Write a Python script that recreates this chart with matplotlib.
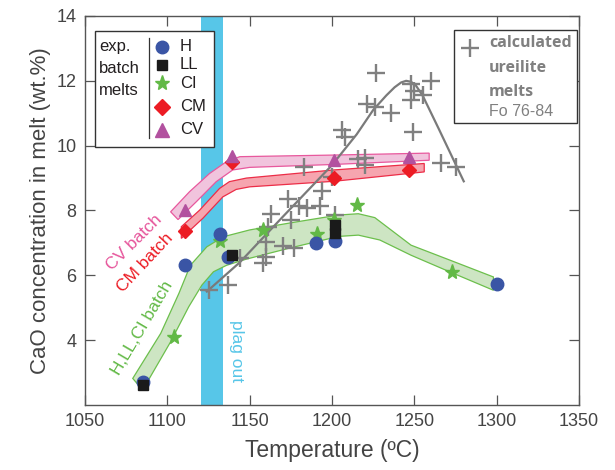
import matplotlib
matplotlib.use("Agg")
import matplotlib.pyplot as plt
from matplotlib.patches import Rectangle

# experimental batch melts (T in C, CaO wt.%)
h_T = [1085, 1111, 1132, 1137, 1190, 1202, 1300]
h_cao = [2.72, 6.31, 7.27, 6.57, 7.0, 7.07, 5.73]
ll_T = [1085, 1139, 1202, 1202]
ll_cao = [2.62, 6.64, 7.55, 7.3]
ci_T = [1104, 1132, 1158, 1191, 1201, 1215, 1273]
ci_cao = [4.1, 7.05, 7.4, 7.27, 7.7, 8.17, 6.1]
cm_T = [1111, 1139, 1201, 1247]
cm_cao = [7.38, 9.5, 9.0, 9.25]
cv_T = [1111, 1139, 1201, 1247]
cv_cao = [8.0, 9.68, 9.57, 9.64]

# calculated ureilite melts, Fo 76-84
calc_T = [1125, 1137, 1144, 1158, 1160, 1160, 1161, 1163, 1170, 1177, 1175, 1173,
          1180, 1185, 1193, 1194, 1183, 1200, 1202, 1206, 1208, 1216, 1220, 1220,
          1221, 1226, 1227, 1236, 1248, 1260, 1250, 1255, 1248, 1249, 1266, 1275]
calc_cao = [5.54, 5.70, 6.52, 6.37, 6.57, 7.03, 7.48, 7.90, 6.90, 6.83, 7.70, 8.35,
            8.14, 8.08, 8.14, 8.60, 9.35, 9.04, 7.86, 10.48, 10.27, 9.58, 9.62, 9.40,
            11.30, 11.20, 12.25, 11.00, 11.90, 12.00, 11.70, 11.56, 11.40, 10.43, 9.45, 9.35]

# trend through the calculated melts
trend_T = [1124, 1144, 1170, 1200, 1215, 1225, 1233, 1238, 1242, 1245, 1248, 1251, 1255, 1265, 1280]
trend_cao = [5.5, 6.4, 7.8, 9.4, 10.35, 11.1, 11.55, 11.8, 11.95, 12.0, 11.97, 11.85, 11.55, 10.5, 8.9]

# batch trend bands (upper and lower edges)
hci_up_T = [1079, 1096, 1107, 1114, 1124, 1134, 1150, 1175, 1204, 1216, 1226, 1248, 1270, 1298]
hci_up = [2.82, 4.21, 5.44, 6.31, 6.88, 7.19, 7.40, 7.62, 7.86, 7.90, 7.78, 6.93, 6.50, 5.95]
hci_lo_T = [1085, 1102, 1113, 1121, 1128, 1136, 1148, 1175, 1204, 1216, 1229, 1248, 1270, 1298]
hci_lo = [2.46, 3.95, 5.03, 5.70, 6.11, 6.31, 6.50, 6.85, 7.20, 7.24, 7.09, 6.62, 6.14, 5.54]

cv_up_T = [1102, 1113.5, 1125.6, 1135.7, 1144, 1201, 1259]
cv_up = [7.96, 8.58, 9.14, 9.50, 9.66, 9.71, 9.77]
cv_lo_T = [1106.5, 1117.6, 1129.7, 1139.7, 1150, 1201, 1259]
cv_lo = [7.72, 8.27, 8.89, 9.25, 9.33, 9.42, 9.55]

cm_up_T = [1108.5, 1119.6, 1131.7, 1137.7, 1148, 1201, 1256]
cm_up = [7.50, 8.01, 8.68, 8.89, 9.00, 9.25, 9.45]
cm_lo_T = [1108.5, 1121.6, 1133.7, 1141.8, 1150, 1201, 1256]
cm_lo = [7.14, 7.76, 8.42, 8.65, 8.73, 8.90, 9.19]

plag_out = (1120.5, 1134)

x_ticks = [1050, 1100, 1150, 1200, 1250, 1300, 1350]
y_ticks = [4, 6, 8, 10, 12, 14]

c_blue = '#3a55a5'
c_green = '#62b946'
c_red = '#ec1c24'
c_purple = '#b2519f'
c_pink = '#e6559b'
c_cyan = '#57c6e8'
c_gray = '#808080'
ann_font = ['Liberation Sans', 'DejaVu Sans']
bold_font = ['Open Sans', 'Liberation Sans', 'DejaVu Sans']

plt.rcParams['font.family'] = ['Liberation Sans', 'DejaVu Sans']

fig = plt.figure(figsize=(6.15, 4.7), dpi=100)
ax = fig.add_axes([0.1382, 0.1383, 0.8033, 0.8277])


def band(up_T, up, lo_T, lo, face, edge):
    xs = list(up_T) + list(lo_T)[::-1]
    ys = list(up) + list(lo)[::-1]
    ax.fill(xs, ys, facecolor=face, edgecolor=edge, lw=0.9, zorder=2)


ax.axvspan(plag_out[0], plag_out[1], color=c_cyan, lw=0, zorder=1)

band(hci_up_T, hci_up, hci_lo_T, hci_lo, '#cde5c3', '#6cbf4c')
band(cv_up_T, cv_up, cv_lo_T, cv_lo, '#f1c4dd', '#e8589d')
band(cm_up_T, cm_up, cm_lo_T, cm_lo, '#f6a5af', '#ec2d47')

ax.plot(trend_T, trend_cao, color='#7a7a7a', lw=1.6, zorder=3)
ax.plot(calc_T, calc_cao, ls='none', marker='+', ms=13, mew=1.7, color=c_gray, zorder=4)

ax.plot(ci_T, ci_cao, ls='none', marker='*', ms=11, color=c_green, mec=c_green, zorder=5)
ax.plot(h_T, h_cao, ls='none', marker='o', ms=9, color=c_blue, zorder=6)
ax.plot(ll_T, ll_cao, ls='none', marker='s', ms=7.5, color='#1a1a1a', zorder=7)
ax.plot(cm_T, cm_cao, ls='none', marker='D', ms=7.5, color=c_red, zorder=6)
ax.plot(cv_T, cv_cao, ls='none', marker='^', ms=9, color=c_purple, zorder=7)

# band labels
ax.text(1079.6, 7.0, 'CV batch', color=c_pink, rotation=45, fontsize=12.5,
        family=ann_font, ha='center', va='center', rotation_mode='anchor')
ax.text(1086.3, 6.4, 'CM batch', color=c_red, rotation=47, fontsize=12.5,
        family=ann_font, ha='center', va='center', rotation_mode='anchor')
ax.text(1084.8, 4.37, 'H,LL,CI batch', color=c_green, rotation=59.5, fontsize=12.5,
        family=ann_font, ha='center', va='center', rotation_mode='anchor')
ax.text(1141.7, 3.67, 'plag out', color=c_cyan, rotation=-90, fontsize=12.5,
        family=ann_font, ha='center', va='center', rotation_mode='anchor')

ax.set_xlim(1050, 1350)
ax.set_ylim(2, 14)
ax.set_xticks(x_ticks)
ax.set_yticks(y_ticks)
ax.tick_params(direction='in', length=7, width=0.9, color='#555555',
               labelsize=13, labelcolor='#444444', top=True, right=True, pad=6)
for s in ax.spines.values():
    s.set_color('#555555')
    s.set_linewidth(1.0)
ax.set_xlabel('Temperature (ºC)', fontsize=16.5, color='#444444', labelpad=6)
ax.set_ylabel('CaO concentration in melt (wt.%)', fontsize=16, color='#444444', labelpad=4)

# left legend box (experimental batch melts)
ax.add_patch(Rectangle((0.0202, 0.663), 0.2409, 0.299, transform=ax.transAxes,
                       facecolor='white', edgecolor='#333333', lw=1.0, zorder=10))
for i, word in enumerate(['exp.', 'batch', 'melts']):
    ax.text(0.0283, [0.921, 0.866, 0.808][i], word, transform=ax.transAxes, fontsize=12,
            family=ann_font, color='#231f20', va='center', ha='left', zorder=11)
ax.plot([0.1296, 0.1296], [0.686, 0.943], transform=ax.transAxes, color='#333333',
        lw=0.9, zorder=11, clip_on=False)
leg_rows = [0.921, 0.874, 0.827, 0.767, 0.707]
leg_names = ['H', 'LL', 'CI', 'CM', 'CV']
leg_style = [('o', c_blue, 9), ('s', '#1a1a1a', 7.5), ('*', c_green, 11),
             ('D', c_red, 8), ('^', c_purple, 9.5)]
for yy, name, (m, c, ms) in zip(leg_rows, leg_names, leg_style):
    ax.plot([0.155], [yy], transform=ax.transAxes, marker=m, color=c, ms=ms,
            ls='none', zorder=11, clip_on=False)
    ax.text(0.192, yy, name, transform=ax.transAxes, fontsize=12, family=ann_font,
            color='#231f20', va='center', ha='left', zorder=11)

# right legend box (calculated melts)
ax.add_patch(Rectangle((0.747, 0.726), 0.248, 0.238, transform=ax.transAxes,
                       facecolor='white', edgecolor='#333333', lw=1.0, zorder=10))
ax.plot([0.779], [0.917], transform=ax.transAxes, marker='+', ms=13, mew=1.7,
        color=c_gray, ls='none', zorder=11, clip_on=False)
for word, yy, wt, fam in [('calculated', 0.931, 'bold', bold_font),
                          ('ureilite', 0.866, 'bold', bold_font),
                          ('melts', 0.805, 'bold', bold_font),
                          ('Fo 76-84', 0.755, 'normal', ann_font)]:
    ax.text(0.818, yy, word, transform=ax.transAxes, fontsize=11.5, family=fam,
            weight=wt, color=c_gray, va='center', ha='left', zorder=11)

fig.savefig('out.png', dpi=100)
